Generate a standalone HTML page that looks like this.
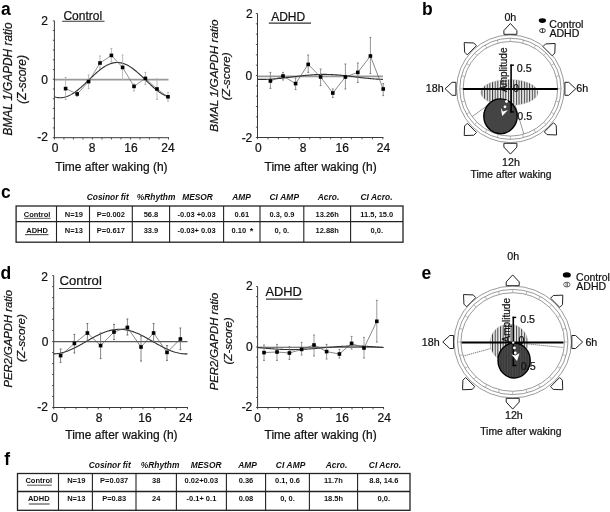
<!DOCTYPE html>
<html><head><meta charset="utf-8"><style>
html,body{margin:0;padding:0;background:#fff;}
svg{display:block;font-family:"Liberation Sans", sans-serif;will-change:transform;}
text:not([font-weight]){stroke:#111;stroke-width:0.22px;}
</style></head><body>
<svg width="610" height="512" viewBox="0 0 610 512">
<rect width="610" height="512" fill="#fff"/>
<line x1="54.40" y1="79.70" x2="168.50" y2="79.70" stroke="#999" stroke-width="1.7"/>
<line x1="54.40" y1="20.80" x2="54.40" y2="138.20" stroke="#3a3a3a" stroke-width="1"/>
<line x1="52.80" y1="20.80" x2="54.40" y2="20.80" stroke="#444" stroke-width="0.9"/>
<line x1="52.80" y1="30.54" x2="54.40" y2="30.54" stroke="#444" stroke-width="0.9"/>
<line x1="52.80" y1="40.28" x2="54.40" y2="40.28" stroke="#444" stroke-width="0.9"/>
<line x1="52.80" y1="50.02" x2="54.40" y2="50.02" stroke="#444" stroke-width="0.9"/>
<line x1="52.80" y1="59.77" x2="54.40" y2="59.77" stroke="#444" stroke-width="0.9"/>
<line x1="52.80" y1="69.51" x2="54.40" y2="69.51" stroke="#444" stroke-width="0.9"/>
<line x1="52.80" y1="79.25" x2="54.40" y2="79.25" stroke="#444" stroke-width="0.9"/>
<line x1="52.80" y1="88.99" x2="54.40" y2="88.99" stroke="#444" stroke-width="0.9"/>
<line x1="52.80" y1="98.73" x2="54.40" y2="98.73" stroke="#444" stroke-width="0.9"/>
<line x1="52.80" y1="108.47" x2="54.40" y2="108.47" stroke="#444" stroke-width="0.9"/>
<line x1="52.80" y1="118.22" x2="54.40" y2="118.22" stroke="#444" stroke-width="0.9"/>
<line x1="52.80" y1="127.96" x2="54.40" y2="127.96" stroke="#444" stroke-width="0.9"/>
<line x1="52.80" y1="137.70" x2="54.40" y2="137.70" stroke="#444" stroke-width="0.9"/>
<line x1="53.90" y1="137.70" x2="169.00" y2="137.70" stroke="#3a3a3a" stroke-width="1"/>
<line x1="54.40" y1="137.70" x2="54.40" y2="139.50" stroke="#444" stroke-width="0.9"/>
<line x1="63.91" y1="137.70" x2="63.91" y2="139.50" stroke="#444" stroke-width="0.9"/>
<line x1="73.42" y1="137.70" x2="73.42" y2="139.50" stroke="#444" stroke-width="0.9"/>
<line x1="82.92" y1="137.70" x2="82.92" y2="139.50" stroke="#444" stroke-width="0.9"/>
<line x1="92.43" y1="137.70" x2="92.43" y2="139.50" stroke="#444" stroke-width="0.9"/>
<line x1="101.94" y1="137.70" x2="101.94" y2="139.50" stroke="#444" stroke-width="0.9"/>
<line x1="111.45" y1="137.70" x2="111.45" y2="139.50" stroke="#444" stroke-width="0.9"/>
<line x1="120.96" y1="137.70" x2="120.96" y2="139.50" stroke="#444" stroke-width="0.9"/>
<line x1="130.47" y1="137.70" x2="130.47" y2="139.50" stroke="#444" stroke-width="0.9"/>
<line x1="139.97" y1="137.70" x2="139.97" y2="139.50" stroke="#444" stroke-width="0.9"/>
<line x1="149.48" y1="137.70" x2="149.48" y2="139.50" stroke="#444" stroke-width="0.9"/>
<line x1="158.99" y1="137.70" x2="158.99" y2="139.50" stroke="#444" stroke-width="0.9"/>
<line x1="168.50" y1="137.70" x2="168.50" y2="139.50" stroke="#444" stroke-width="0.9"/>
<polyline points="54.40,96.83 55.35,97.09 56.30,97.31 57.25,97.48 58.20,97.60 59.15,97.67 60.10,97.70 61.06,97.68 62.01,97.61 62.96,97.49 63.91,97.32 64.86,97.11 65.81,96.85 66.76,96.55 67.71,96.20 68.66,95.80 69.61,95.36 70.56,94.88 71.52,94.36 72.47,93.81 73.42,93.21 74.37,92.58 75.32,91.91 76.27,91.21 77.22,90.48 78.17,89.72 79.12,88.94 80.07,88.13 81.02,87.30 81.97,86.45 82.92,85.58 83.88,84.70 84.83,83.80 85.78,82.90 86.73,81.98 87.68,81.06 88.63,80.14 89.58,79.22 90.53,78.30 91.48,77.39 92.43,76.48 93.38,75.59 94.33,74.70 95.29,73.83 96.24,72.98 97.19,72.15 98.14,71.34 99.09,70.55 100.04,69.79 100.99,69.06 101.94,68.36 102.89,67.69 103.84,67.05 104.79,66.45 105.75,65.89 106.70,65.36 107.65,64.88 108.60,64.44 109.55,64.04 110.50,63.68 111.45,63.37 112.40,63.11 113.35,62.89 114.30,62.72 115.25,62.60 116.20,62.53 117.16,62.50 118.11,62.52 119.06,62.59 120.01,62.71 120.96,62.88 121.91,63.09 122.86,63.35 123.81,63.65 124.76,64.00 125.71,64.40 126.66,64.84 127.61,65.32 128.56,65.84 129.52,66.39 130.47,66.99 131.42,67.62 132.37,68.29 133.32,68.99 134.27,69.72 135.22,70.48 136.17,71.26 137.12,72.07 138.07,72.90 139.02,73.75 139.97,74.62 140.93,75.50 141.88,76.40 142.83,77.30 143.78,78.22 144.73,79.14 145.68,80.06 146.63,80.98 147.58,81.90 148.53,82.81 149.48,83.72 150.43,84.61 151.38,85.50 152.34,86.37 153.29,87.22 154.24,88.05 155.19,88.86 156.14,89.65 157.09,90.41 158.04,91.14 158.99,91.84 159.94,92.51 160.89,93.15 161.84,93.75 162.79,94.31 163.75,94.84 164.70,95.32 165.65,95.76 166.60,96.16 167.55,96.52 168.50,96.83" stroke="#303030" stroke-width="1.1" fill="none"/>
<line x1="65.60" y1="77.40" x2="65.60" y2="99.40" stroke="#aaa" stroke-width="0.8"/>
<line x1="64.70" y1="77.40" x2="66.50" y2="77.40" stroke="#aaa" stroke-width="1"/>
<line x1="64.70" y1="99.40" x2="66.50" y2="99.40" stroke="#aaa" stroke-width="1"/>
<line x1="77.20" y1="92.00" x2="77.20" y2="96.50" stroke="#aaa" stroke-width="0.8"/>
<line x1="76.30" y1="92.00" x2="78.10" y2="92.00" stroke="#aaa" stroke-width="1"/>
<line x1="76.30" y1="96.50" x2="78.10" y2="96.50" stroke="#aaa" stroke-width="1"/>
<line x1="88.60" y1="75.00" x2="88.60" y2="88.60" stroke="#aaa" stroke-width="0.8"/>
<line x1="87.70" y1="75.00" x2="89.50" y2="75.00" stroke="#aaa" stroke-width="1"/>
<line x1="87.70" y1="88.60" x2="89.50" y2="88.60" stroke="#aaa" stroke-width="1"/>
<line x1="100.00" y1="56.00" x2="100.00" y2="68.00" stroke="#aaa" stroke-width="0.8"/>
<line x1="99.10" y1="56.00" x2="100.90" y2="56.00" stroke="#aaa" stroke-width="1"/>
<line x1="99.10" y1="68.00" x2="100.90" y2="68.00" stroke="#aaa" stroke-width="1"/>
<line x1="111.40" y1="48.40" x2="111.40" y2="62.00" stroke="#aaa" stroke-width="0.8"/>
<line x1="110.50" y1="48.40" x2="112.30" y2="48.40" stroke="#aaa" stroke-width="1"/>
<line x1="110.50" y1="62.00" x2="112.30" y2="62.00" stroke="#aaa" stroke-width="1"/>
<line x1="122.60" y1="55.00" x2="122.60" y2="79.60" stroke="#aaa" stroke-width="0.8"/>
<line x1="121.70" y1="55.00" x2="123.50" y2="55.00" stroke="#aaa" stroke-width="1"/>
<line x1="121.70" y1="79.60" x2="123.50" y2="79.60" stroke="#aaa" stroke-width="1"/>
<line x1="134.00" y1="84.00" x2="134.00" y2="91.00" stroke="#aaa" stroke-width="0.8"/>
<line x1="133.10" y1="84.00" x2="134.90" y2="84.00" stroke="#aaa" stroke-width="1"/>
<line x1="133.10" y1="91.00" x2="134.90" y2="91.00" stroke="#aaa" stroke-width="1"/>
<line x1="145.40" y1="72.40" x2="145.40" y2="84.40" stroke="#aaa" stroke-width="0.8"/>
<line x1="144.50" y1="72.40" x2="146.30" y2="72.40" stroke="#aaa" stroke-width="1"/>
<line x1="144.50" y1="84.40" x2="146.30" y2="84.40" stroke="#aaa" stroke-width="1"/>
<line x1="157.00" y1="79.00" x2="157.00" y2="99.40" stroke="#aaa" stroke-width="0.8"/>
<line x1="156.10" y1="79.00" x2="157.90" y2="79.00" stroke="#aaa" stroke-width="1"/>
<line x1="156.10" y1="99.40" x2="157.90" y2="99.40" stroke="#aaa" stroke-width="1"/>
<line x1="168.00" y1="92.40" x2="168.00" y2="101.00" stroke="#aaa" stroke-width="0.8"/>
<line x1="167.10" y1="92.40" x2="168.90" y2="92.40" stroke="#aaa" stroke-width="1"/>
<line x1="167.10" y1="101.00" x2="168.90" y2="101.00" stroke="#aaa" stroke-width="1"/>
<polyline points="65.60,88.60 77.20,94.00 88.60,81.60 100.00,63.00 111.40,55.40 122.60,67.40 134.00,86.40 145.40,78.40 157.00,89.00 168.00,96.80" stroke="#666" stroke-width="0.7" fill="none"/>
<rect x="63.80" y="86.80" width="3.6" height="3.6" fill="#000"/>
<rect x="75.40" y="92.20" width="3.6" height="3.6" fill="#000"/>
<rect x="86.80" y="79.80" width="3.6" height="3.6" fill="#000"/>
<rect x="98.20" y="61.20" width="3.6" height="3.6" fill="#000"/>
<rect x="109.60" y="53.60" width="3.6" height="3.6" fill="#000"/>
<rect x="120.80" y="65.60" width="3.6" height="3.6" fill="#000"/>
<rect x="132.20" y="84.60" width="3.6" height="3.6" fill="#000"/>
<rect x="143.60" y="76.60" width="3.6" height="3.6" fill="#000"/>
<rect x="155.20" y="87.20" width="3.6" height="3.6" fill="#000"/>
<rect x="166.20" y="95.00" width="3.6" height="3.6" fill="#000"/>
<text x="63.4" y="19.6" font-size="12" text-anchor="start" fill="#111">Control</text>
<line x1="62.20" y1="21.20" x2="104.50" y2="21.20" stroke="#333" stroke-width="1.1"/>
<text x="48" y="24.5" font-size="12" text-anchor="end" fill="#111">2</text>
<text x="48" y="83.6" font-size="12" text-anchor="end" fill="#111">0</text>
<text x="48" y="140.9" font-size="12" text-anchor="end" fill="#111">-2</text>
<text x="55" y="152.2" font-size="12" text-anchor="middle" fill="#111">0</text>
<text x="92" y="152.2" font-size="12" text-anchor="middle" fill="#111">8</text>
<text x="130.9" y="152.2" font-size="12" text-anchor="middle" fill="#111">16</text>
<text x="168" y="152.2" font-size="12" text-anchor="middle" fill="#111">24</text>
<text x="55.3" y="170.5" font-size="12" text-anchor="start" fill="#111">Time after waking (h)</text>
<text x="12.4" y="79" font-size="11.85" font-style="italic" text-anchor="middle" fill="#111" transform="rotate(-90 12.4 79)">BMAL&#8201;1/GAPDH ratio</text>
<text x="26" y="79.3" font-size="12" font-style="italic" text-anchor="middle" fill="#111" transform="rotate(-90 26 79.3)">(Z-score)</text>
<line x1="257.50" y1="76.40" x2="382.90" y2="76.40" stroke="#999" stroke-width="1.7"/>
<line x1="257.50" y1="13.50" x2="257.50" y2="138.00" stroke="#3a3a3a" stroke-width="1"/>
<line x1="255.90" y1="13.50" x2="257.50" y2="13.50" stroke="#444" stroke-width="0.9"/>
<line x1="255.90" y1="23.83" x2="257.50" y2="23.83" stroke="#444" stroke-width="0.9"/>
<line x1="255.90" y1="34.17" x2="257.50" y2="34.17" stroke="#444" stroke-width="0.9"/>
<line x1="255.90" y1="44.50" x2="257.50" y2="44.50" stroke="#444" stroke-width="0.9"/>
<line x1="255.90" y1="54.83" x2="257.50" y2="54.83" stroke="#444" stroke-width="0.9"/>
<line x1="255.90" y1="65.17" x2="257.50" y2="65.17" stroke="#444" stroke-width="0.9"/>
<line x1="255.90" y1="75.50" x2="257.50" y2="75.50" stroke="#444" stroke-width="0.9"/>
<line x1="255.90" y1="85.83" x2="257.50" y2="85.83" stroke="#444" stroke-width="0.9"/>
<line x1="255.90" y1="96.17" x2="257.50" y2="96.17" stroke="#444" stroke-width="0.9"/>
<line x1="255.90" y1="106.50" x2="257.50" y2="106.50" stroke="#444" stroke-width="0.9"/>
<line x1="255.90" y1="116.83" x2="257.50" y2="116.83" stroke="#444" stroke-width="0.9"/>
<line x1="255.90" y1="127.17" x2="257.50" y2="127.17" stroke="#444" stroke-width="0.9"/>
<line x1="255.90" y1="137.50" x2="257.50" y2="137.50" stroke="#444" stroke-width="0.9"/>
<line x1="257.00" y1="137.50" x2="383.40" y2="137.50" stroke="#3a3a3a" stroke-width="1"/>
<line x1="257.50" y1="137.50" x2="257.50" y2="139.30" stroke="#444" stroke-width="0.9"/>
<line x1="267.95" y1="137.50" x2="267.95" y2="139.30" stroke="#444" stroke-width="0.9"/>
<line x1="278.40" y1="137.50" x2="278.40" y2="139.30" stroke="#444" stroke-width="0.9"/>
<line x1="288.85" y1="137.50" x2="288.85" y2="139.30" stroke="#444" stroke-width="0.9"/>
<line x1="299.30" y1="137.50" x2="299.30" y2="139.30" stroke="#444" stroke-width="0.9"/>
<line x1="309.75" y1="137.50" x2="309.75" y2="139.30" stroke="#444" stroke-width="0.9"/>
<line x1="320.20" y1="137.50" x2="320.20" y2="139.30" stroke="#444" stroke-width="0.9"/>
<line x1="330.65" y1="137.50" x2="330.65" y2="139.30" stroke="#444" stroke-width="0.9"/>
<line x1="341.10" y1="137.50" x2="341.10" y2="139.30" stroke="#444" stroke-width="0.9"/>
<line x1="351.55" y1="137.50" x2="351.55" y2="139.30" stroke="#444" stroke-width="0.9"/>
<line x1="362.00" y1="137.50" x2="362.00" y2="139.30" stroke="#444" stroke-width="0.9"/>
<line x1="372.45" y1="137.50" x2="372.45" y2="139.30" stroke="#444" stroke-width="0.9"/>
<line x1="382.90" y1="137.50" x2="382.90" y2="139.30" stroke="#444" stroke-width="0.9"/>
<polyline points="257.50,79.35 258.55,79.38 259.59,79.39 260.63,79.40 261.68,79.40 262.73,79.39 263.77,79.38 264.81,79.36 265.86,79.34 266.90,79.30 267.95,79.26 269.00,79.22 270.04,79.16 271.08,79.11 272.13,79.04 273.18,78.97 274.22,78.89 275.26,78.81 276.31,78.73 277.36,78.63 278.40,78.54 279.44,78.44 280.49,78.33 281.53,78.22 282.58,78.11 283.62,77.99 284.67,77.87 285.71,77.75 286.76,77.63 287.81,77.50 288.85,77.37 289.89,77.24 290.94,77.11 291.99,76.98 293.03,76.85 294.07,76.72 295.12,76.59 296.16,76.46 297.21,76.33 298.25,76.21 299.30,76.08 300.34,75.96 301.39,75.84 302.44,75.72 303.48,75.61 304.52,75.50 305.57,75.39 306.62,75.29 307.66,75.19 308.70,75.10 309.75,75.01 310.79,74.93 311.84,74.85 312.88,74.78 313.93,74.71 314.98,74.65 316.02,74.60 317.06,74.55 318.11,74.51 319.15,74.47 320.20,74.45 321.25,74.42 322.29,74.41 323.33,74.40 324.38,74.40 325.42,74.41 326.47,74.42 327.51,74.44 328.56,74.46 329.61,74.50 330.65,74.54 331.69,74.58 332.74,74.64 333.78,74.69 334.83,74.76 335.88,74.83 336.92,74.91 337.96,74.99 339.01,75.07 340.06,75.17 341.10,75.26 342.14,75.36 343.19,75.47 344.24,75.58 345.28,75.69 346.32,75.81 347.37,75.93 348.41,76.05 349.46,76.17 350.50,76.30 351.55,76.43 352.59,76.56 353.64,76.69 354.68,76.82 355.73,76.95 356.77,77.08 357.82,77.21 358.87,77.34 359.91,77.47 360.95,77.59 362.00,77.72 363.04,77.84 364.09,77.96 365.13,78.08 366.18,78.19 367.22,78.30 368.27,78.41 369.31,78.51 370.36,78.61 371.40,78.70 372.45,78.79 373.50,78.87 374.54,78.95 375.58,79.02 376.63,79.09 377.67,79.15 378.72,79.20 379.76,79.25 380.81,79.29 381.85,79.33 382.90,79.35" stroke="#303030" stroke-width="1.1" fill="none"/>
<line x1="270.40" y1="72.40" x2="270.40" y2="88.40" stroke="#7a7a7a" stroke-width="0.8"/>
<line x1="269.50" y1="72.40" x2="271.30" y2="72.40" stroke="#7a7a7a" stroke-width="1"/>
<line x1="269.50" y1="88.40" x2="271.30" y2="88.40" stroke="#7a7a7a" stroke-width="1"/>
<line x1="283.00" y1="72.40" x2="283.00" y2="80.00" stroke="#7a7a7a" stroke-width="0.8"/>
<line x1="282.10" y1="72.40" x2="283.90" y2="72.40" stroke="#7a7a7a" stroke-width="1"/>
<line x1="282.10" y1="80.00" x2="283.90" y2="80.00" stroke="#7a7a7a" stroke-width="1"/>
<line x1="295.60" y1="78.00" x2="295.60" y2="89.60" stroke="#7a7a7a" stroke-width="0.8"/>
<line x1="294.70" y1="78.00" x2="296.50" y2="78.00" stroke="#7a7a7a" stroke-width="1"/>
<line x1="294.70" y1="89.60" x2="296.50" y2="89.60" stroke="#7a7a7a" stroke-width="1"/>
<line x1="308.20" y1="55.00" x2="308.20" y2="72.40" stroke="#7a7a7a" stroke-width="0.8"/>
<line x1="307.30" y1="55.00" x2="309.10" y2="55.00" stroke="#7a7a7a" stroke-width="1"/>
<line x1="307.30" y1="72.40" x2="309.10" y2="72.40" stroke="#7a7a7a" stroke-width="1"/>
<line x1="320.60" y1="69.00" x2="320.60" y2="85.60" stroke="#7a7a7a" stroke-width="0.8"/>
<line x1="319.70" y1="69.00" x2="321.50" y2="69.00" stroke="#7a7a7a" stroke-width="1"/>
<line x1="319.70" y1="85.60" x2="321.50" y2="85.60" stroke="#7a7a7a" stroke-width="1"/>
<line x1="332.80" y1="89.00" x2="332.80" y2="97.40" stroke="#7a7a7a" stroke-width="0.8"/>
<line x1="331.90" y1="89.00" x2="333.70" y2="89.00" stroke="#7a7a7a" stroke-width="1"/>
<line x1="331.90" y1="97.40" x2="333.70" y2="97.40" stroke="#7a7a7a" stroke-width="1"/>
<line x1="345.40" y1="64.00" x2="345.40" y2="89.00" stroke="#7a7a7a" stroke-width="0.8"/>
<line x1="344.50" y1="64.00" x2="346.30" y2="64.00" stroke="#7a7a7a" stroke-width="1"/>
<line x1="344.50" y1="89.00" x2="346.30" y2="89.00" stroke="#7a7a7a" stroke-width="1"/>
<line x1="357.80" y1="63.00" x2="357.80" y2="82.40" stroke="#7a7a7a" stroke-width="0.8"/>
<line x1="356.90" y1="63.00" x2="358.70" y2="63.00" stroke="#7a7a7a" stroke-width="1"/>
<line x1="356.90" y1="82.40" x2="358.70" y2="82.40" stroke="#7a7a7a" stroke-width="1"/>
<line x1="370.40" y1="37.40" x2="370.40" y2="73.60" stroke="#7a7a7a" stroke-width="0.8"/>
<line x1="369.50" y1="37.40" x2="371.30" y2="37.40" stroke="#7a7a7a" stroke-width="1"/>
<line x1="369.50" y1="73.60" x2="371.30" y2="73.60" stroke="#7a7a7a" stroke-width="1"/>
<line x1="383.20" y1="83.60" x2="383.20" y2="95.60" stroke="#7a7a7a" stroke-width="0.8"/>
<line x1="382.30" y1="83.60" x2="384.10" y2="83.60" stroke="#7a7a7a" stroke-width="1"/>
<line x1="382.30" y1="95.60" x2="384.10" y2="95.60" stroke="#7a7a7a" stroke-width="1"/>
<polyline points="270.40,81.00 283.00,76.00 295.60,83.60 308.20,64.40 320.60,77.00 332.80,93.00 345.40,77.00 357.80,72.40 370.40,56.00 383.20,89.00" stroke="#555" stroke-width="0.7" fill="none"/>
<rect x="268.60" y="79.20" width="3.6" height="3.6" fill="#000"/>
<rect x="281.20" y="74.20" width="3.6" height="3.6" fill="#000"/>
<rect x="293.80" y="81.80" width="3.6" height="3.6" fill="#000"/>
<rect x="306.40" y="62.60" width="3.6" height="3.6" fill="#000"/>
<rect x="318.80" y="75.20" width="3.6" height="3.6" fill="#000"/>
<rect x="331.00" y="91.20" width="3.6" height="3.6" fill="#000"/>
<rect x="343.60" y="75.20" width="3.6" height="3.6" fill="#000"/>
<rect x="356.00" y="70.60" width="3.6" height="3.6" fill="#000"/>
<rect x="368.60" y="54.20" width="3.6" height="3.6" fill="#000"/>
<rect x="381.40" y="87.20" width="3.6" height="3.6" fill="#000"/>
<text x="271.2" y="20.8" font-size="12" text-anchor="start" fill="#111">ADHD</text>
<line x1="268.80" y1="23.10" x2="311.00" y2="23.10" stroke="#333" stroke-width="1.1"/>
<text x="252.6" y="17.5" font-size="12" text-anchor="end" fill="#111">2</text>
<text x="252.3" y="79.6" font-size="12" text-anchor="end" fill="#111">0</text>
<text x="252.3" y="141.6" font-size="12" text-anchor="end" fill="#111">-2</text>
<text x="258.3" y="152.2" font-size="12" text-anchor="middle" fill="#111">0</text>
<text x="303.2" y="152.2" font-size="12" text-anchor="middle" fill="#111">8</text>
<text x="342.3" y="152.2" font-size="12" text-anchor="middle" fill="#111">16</text>
<text x="383.5" y="152.2" font-size="12" text-anchor="middle" fill="#111">24</text>
<text x="264.5" y="170.5" font-size="12" text-anchor="start" fill="#111">Time after waking (h)</text>
<text x="217.8" y="75.6" font-size="11.75" font-style="italic" text-anchor="middle" fill="#111" transform="rotate(-90 217.8 75.6)">BMAL&#8201;1/GAPDH ratio</text>
<text x="230" y="76.3" font-size="11.8" font-style="italic" text-anchor="middle" fill="#111" transform="rotate(-90 230 76.3)">(Z-score)</text>
<line x1="53.70" y1="341.60" x2="187.50" y2="341.60" stroke="#5a5a5a" stroke-width="1.4"/>
<line x1="53.70" y1="275.60" x2="53.70" y2="408.00" stroke="#3a3a3a" stroke-width="1"/>
<line x1="52.10" y1="275.60" x2="53.70" y2="275.60" stroke="#444" stroke-width="0.9"/>
<line x1="52.10" y1="286.59" x2="53.70" y2="286.59" stroke="#444" stroke-width="0.9"/>
<line x1="52.10" y1="297.58" x2="53.70" y2="297.58" stroke="#444" stroke-width="0.9"/>
<line x1="52.10" y1="308.58" x2="53.70" y2="308.58" stroke="#444" stroke-width="0.9"/>
<line x1="52.10" y1="319.57" x2="53.70" y2="319.57" stroke="#444" stroke-width="0.9"/>
<line x1="52.10" y1="330.56" x2="53.70" y2="330.56" stroke="#444" stroke-width="0.9"/>
<line x1="52.10" y1="341.55" x2="53.70" y2="341.55" stroke="#444" stroke-width="0.9"/>
<line x1="52.10" y1="352.54" x2="53.70" y2="352.54" stroke="#444" stroke-width="0.9"/>
<line x1="52.10" y1="363.53" x2="53.70" y2="363.53" stroke="#444" stroke-width="0.9"/>
<line x1="52.10" y1="374.53" x2="53.70" y2="374.53" stroke="#444" stroke-width="0.9"/>
<line x1="52.10" y1="385.52" x2="53.70" y2="385.52" stroke="#444" stroke-width="0.9"/>
<line x1="52.10" y1="396.51" x2="53.70" y2="396.51" stroke="#444" stroke-width="0.9"/>
<line x1="52.10" y1="407.50" x2="53.70" y2="407.50" stroke="#444" stroke-width="0.9"/>
<line x1="53.20" y1="407.50" x2="188.00" y2="407.50" stroke="#3a3a3a" stroke-width="1"/>
<line x1="53.70" y1="407.50" x2="53.70" y2="409.30" stroke="#444" stroke-width="0.9"/>
<line x1="64.85" y1="407.50" x2="64.85" y2="409.30" stroke="#444" stroke-width="0.9"/>
<line x1="76.00" y1="407.50" x2="76.00" y2="409.30" stroke="#444" stroke-width="0.9"/>
<line x1="87.15" y1="407.50" x2="87.15" y2="409.30" stroke="#444" stroke-width="0.9"/>
<line x1="98.30" y1="407.50" x2="98.30" y2="409.30" stroke="#444" stroke-width="0.9"/>
<line x1="109.45" y1="407.50" x2="109.45" y2="409.30" stroke="#444" stroke-width="0.9"/>
<line x1="120.60" y1="407.50" x2="120.60" y2="409.30" stroke="#444" stroke-width="0.9"/>
<line x1="131.75" y1="407.50" x2="131.75" y2="409.30" stroke="#444" stroke-width="0.9"/>
<line x1="142.90" y1="407.50" x2="142.90" y2="409.30" stroke="#444" stroke-width="0.9"/>
<line x1="154.05" y1="407.50" x2="154.05" y2="409.30" stroke="#444" stroke-width="0.9"/>
<line x1="165.20" y1="407.50" x2="165.20" y2="409.30" stroke="#444" stroke-width="0.9"/>
<line x1="176.35" y1="407.50" x2="176.35" y2="409.30" stroke="#444" stroke-width="0.9"/>
<line x1="187.50" y1="407.50" x2="187.50" y2="409.30" stroke="#444" stroke-width="0.9"/>
<polyline points="53.70,353.88 54.82,353.83 55.93,353.75 57.05,353.63 58.16,353.48 59.28,353.30 60.39,353.09 61.51,352.84 62.62,352.56 63.73,352.26 64.85,351.92 65.97,351.56 67.08,351.16 68.20,350.75 69.31,350.30 70.43,349.84 71.54,349.35 72.66,348.84 73.77,348.31 74.89,347.76 76.00,347.19 77.12,346.61 78.23,346.02 79.34,345.41 80.46,344.79 81.58,344.17 82.69,343.53 83.81,342.89 84.92,342.25 86.03,341.61 87.15,340.96 88.27,340.32 89.38,339.68 90.50,339.05 91.61,338.42 92.72,337.81 93.84,337.20 94.96,336.61 96.07,336.02 97.19,335.46 98.30,334.91 99.42,334.38 100.53,333.87 101.65,333.38 102.76,332.91 103.88,332.47 104.99,332.05 106.11,331.65 107.22,331.29 108.34,330.95 109.45,330.64 110.56,330.37 111.68,330.12 112.80,329.90 113.91,329.72 115.03,329.57 116.14,329.45 117.25,329.37 118.37,329.32 119.49,329.30 120.60,329.32 121.72,329.37 122.83,329.45 123.95,329.57 125.06,329.72 126.17,329.90 127.29,330.11 128.41,330.36 129.52,330.64 130.63,330.94 131.75,331.28 132.87,331.64 133.98,332.04 135.10,332.45 136.21,332.90 137.32,333.36 138.44,333.85 139.56,334.36 140.67,334.89 141.79,335.44 142.90,336.01 144.02,336.59 145.13,337.18 146.25,337.79 147.36,338.41 148.48,339.03 149.59,339.67 150.71,340.31 151.82,340.95 152.94,341.59 154.05,342.24 155.17,342.88 156.28,343.52 157.40,344.15 158.51,344.78 159.62,345.39 160.74,346.00 161.86,346.59 162.97,347.18 164.09,347.74 165.20,348.29 166.31,348.82 167.43,349.33 168.55,349.82 169.66,350.29 170.78,350.73 171.89,351.15 173.00,351.55 174.12,351.91 175.24,352.25 176.35,352.56 177.47,352.83 178.58,353.08 179.70,353.30 180.81,353.48 181.93,353.63 183.04,353.75 184.16,353.83 185.27,353.88 186.38,353.90 187.50,353.88" stroke="#303030" stroke-width="1.1" fill="none"/>
<line x1="60.60" y1="349.00" x2="60.60" y2="362.40" stroke="#666" stroke-width="0.8"/>
<line x1="59.70" y1="349.00" x2="61.50" y2="349.00" stroke="#666" stroke-width="1"/>
<line x1="59.70" y1="362.40" x2="61.50" y2="362.40" stroke="#666" stroke-width="1"/>
<line x1="74.40" y1="334.40" x2="74.40" y2="353.00" stroke="#666" stroke-width="0.8"/>
<line x1="73.50" y1="334.40" x2="75.30" y2="334.40" stroke="#666" stroke-width="1"/>
<line x1="73.50" y1="353.00" x2="75.30" y2="353.00" stroke="#666" stroke-width="1"/>
<line x1="87.40" y1="323.60" x2="87.40" y2="341.00" stroke="#666" stroke-width="0.8"/>
<line x1="86.50" y1="323.60" x2="88.30" y2="323.60" stroke="#666" stroke-width="1"/>
<line x1="86.50" y1="341.00" x2="88.30" y2="341.00" stroke="#666" stroke-width="1"/>
<line x1="100.60" y1="333.00" x2="100.60" y2="358.60" stroke="#666" stroke-width="0.8"/>
<line x1="99.70" y1="333.00" x2="101.50" y2="333.00" stroke="#666" stroke-width="1"/>
<line x1="99.70" y1="358.60" x2="101.50" y2="358.60" stroke="#666" stroke-width="1"/>
<line x1="114.00" y1="324.40" x2="114.00" y2="339.60" stroke="#666" stroke-width="0.8"/>
<line x1="113.10" y1="324.40" x2="114.90" y2="324.40" stroke="#666" stroke-width="1"/>
<line x1="113.10" y1="339.60" x2="114.90" y2="339.60" stroke="#666" stroke-width="1"/>
<line x1="127.40" y1="319.00" x2="127.40" y2="335.00" stroke="#666" stroke-width="0.8"/>
<line x1="126.50" y1="319.00" x2="128.30" y2="319.00" stroke="#666" stroke-width="1"/>
<line x1="126.50" y1="335.00" x2="128.30" y2="335.00" stroke="#666" stroke-width="1"/>
<line x1="141.00" y1="336.00" x2="141.00" y2="361.00" stroke="#666" stroke-width="0.8"/>
<line x1="140.10" y1="336.00" x2="141.90" y2="336.00" stroke="#666" stroke-width="1"/>
<line x1="140.10" y1="361.00" x2="141.90" y2="361.00" stroke="#666" stroke-width="1"/>
<line x1="153.60" y1="323.60" x2="153.60" y2="342.00" stroke="#666" stroke-width="0.8"/>
<line x1="152.70" y1="323.60" x2="154.50" y2="323.60" stroke="#666" stroke-width="1"/>
<line x1="152.70" y1="342.00" x2="154.50" y2="342.00" stroke="#666" stroke-width="1"/>
<line x1="167.00" y1="345.60" x2="167.00" y2="360.40" stroke="#666" stroke-width="0.8"/>
<line x1="166.10" y1="345.60" x2="167.90" y2="345.60" stroke="#666" stroke-width="1"/>
<line x1="166.10" y1="360.40" x2="167.90" y2="360.40" stroke="#666" stroke-width="1"/>
<line x1="180.40" y1="328.00" x2="180.40" y2="349.60" stroke="#666" stroke-width="0.8"/>
<line x1="179.50" y1="328.00" x2="181.30" y2="328.00" stroke="#666" stroke-width="1"/>
<line x1="179.50" y1="349.60" x2="181.30" y2="349.60" stroke="#666" stroke-width="1"/>
<polyline points="60.60,355.60 74.40,343.40 87.40,333.00 100.60,345.60 114.00,332.00 127.40,327.40 141.00,347.00 153.60,333.00 167.00,352.40 180.40,339.00" stroke="#555" stroke-width="0.7" fill="none"/>
<rect x="58.80" y="353.80" width="3.6" height="3.6" fill="#000"/>
<rect x="72.60" y="341.60" width="3.6" height="3.6" fill="#000"/>
<rect x="85.60" y="331.20" width="3.6" height="3.6" fill="#000"/>
<rect x="98.80" y="343.80" width="3.6" height="3.6" fill="#000"/>
<rect x="112.20" y="330.20" width="3.6" height="3.6" fill="#000"/>
<rect x="125.60" y="325.60" width="3.6" height="3.6" fill="#000"/>
<rect x="139.20" y="345.20" width="3.6" height="3.6" fill="#000"/>
<rect x="151.80" y="331.20" width="3.6" height="3.6" fill="#000"/>
<rect x="165.20" y="350.60" width="3.6" height="3.6" fill="#000"/>
<rect x="178.60" y="337.20" width="3.6" height="3.6" fill="#000"/>
<text x="59.6" y="285.2" font-size="13.1" text-anchor="start" fill="#111">Control</text>
<line x1="59.00" y1="288.50" x2="101.50" y2="288.50" stroke="#333" stroke-width="1.1"/>
<text x="48" y="280.8" font-size="12" text-anchor="end" fill="#111">2</text>
<text x="48.4" y="346" font-size="12" text-anchor="end" fill="#111">0</text>
<text x="48" y="411.2" font-size="12" text-anchor="end" fill="#111">-2</text>
<text x="54.5" y="422.2" font-size="12" text-anchor="middle" fill="#111">0</text>
<text x="99" y="422.2" font-size="12" text-anchor="middle" fill="#111">8</text>
<text x="145" y="422.2" font-size="12" text-anchor="middle" fill="#111">16</text>
<text x="185.7" y="422.2" font-size="12" text-anchor="middle" fill="#111">24</text>
<text x="65.3" y="438.5" font-size="12" text-anchor="start" fill="#111">Time after waking (h)</text>
<text x="12.2" y="338.75" font-size="11.25" font-style="italic" text-anchor="middle" fill="#111" transform="rotate(-90 12.2 338.75)">PER2/GAPDH ratio</text>
<text x="24.9" y="338" font-size="11.8" font-style="italic" text-anchor="middle" fill="#111" transform="rotate(-90 24.9 338)">(Z-score)</text>
<line x1="257.60" y1="347.20" x2="383.50" y2="347.20" stroke="#505050" stroke-width="1.1"/>
<line x1="257.60" y1="286.50" x2="257.60" y2="408.00" stroke="#3a3a3a" stroke-width="1"/>
<line x1="256.00" y1="286.50" x2="257.60" y2="286.50" stroke="#444" stroke-width="0.9"/>
<line x1="256.00" y1="296.58" x2="257.60" y2="296.58" stroke="#444" stroke-width="0.9"/>
<line x1="256.00" y1="306.67" x2="257.60" y2="306.67" stroke="#444" stroke-width="0.9"/>
<line x1="256.00" y1="316.75" x2="257.60" y2="316.75" stroke="#444" stroke-width="0.9"/>
<line x1="256.00" y1="326.83" x2="257.60" y2="326.83" stroke="#444" stroke-width="0.9"/>
<line x1="256.00" y1="336.92" x2="257.60" y2="336.92" stroke="#444" stroke-width="0.9"/>
<line x1="256.00" y1="347.00" x2="257.60" y2="347.00" stroke="#444" stroke-width="0.9"/>
<line x1="256.00" y1="357.08" x2="257.60" y2="357.08" stroke="#444" stroke-width="0.9"/>
<line x1="256.00" y1="367.17" x2="257.60" y2="367.17" stroke="#444" stroke-width="0.9"/>
<line x1="256.00" y1="377.25" x2="257.60" y2="377.25" stroke="#444" stroke-width="0.9"/>
<line x1="256.00" y1="387.33" x2="257.60" y2="387.33" stroke="#444" stroke-width="0.9"/>
<line x1="256.00" y1="397.42" x2="257.60" y2="397.42" stroke="#444" stroke-width="0.9"/>
<line x1="256.00" y1="407.50" x2="257.60" y2="407.50" stroke="#444" stroke-width="0.9"/>
<line x1="257.10" y1="407.50" x2="384.00" y2="407.50" stroke="#3a3a3a" stroke-width="1"/>
<line x1="257.60" y1="407.50" x2="257.60" y2="409.30" stroke="#444" stroke-width="0.9"/>
<line x1="268.09" y1="407.50" x2="268.09" y2="409.30" stroke="#444" stroke-width="0.9"/>
<line x1="278.58" y1="407.50" x2="278.58" y2="409.30" stroke="#444" stroke-width="0.9"/>
<line x1="289.08" y1="407.50" x2="289.08" y2="409.30" stroke="#444" stroke-width="0.9"/>
<line x1="299.57" y1="407.50" x2="299.57" y2="409.30" stroke="#444" stroke-width="0.9"/>
<line x1="310.06" y1="407.50" x2="310.06" y2="409.30" stroke="#444" stroke-width="0.9"/>
<line x1="320.55" y1="407.50" x2="320.55" y2="409.30" stroke="#444" stroke-width="0.9"/>
<line x1="331.04" y1="407.50" x2="331.04" y2="409.30" stroke="#444" stroke-width="0.9"/>
<line x1="341.53" y1="407.50" x2="341.53" y2="409.30" stroke="#444" stroke-width="0.9"/>
<line x1="352.03" y1="407.50" x2="352.03" y2="409.30" stroke="#444" stroke-width="0.9"/>
<line x1="362.52" y1="407.50" x2="362.52" y2="409.30" stroke="#444" stroke-width="0.9"/>
<line x1="373.01" y1="407.50" x2="373.01" y2="409.30" stroke="#444" stroke-width="0.9"/>
<line x1="383.50" y1="407.50" x2="383.50" y2="409.30" stroke="#444" stroke-width="0.9"/>
<polyline points="257.60,347.56 258.65,347.65 259.70,347.75 260.75,347.84 261.80,347.94 262.85,348.03 263.90,348.12 264.94,348.22 265.99,348.31 267.04,348.40 268.09,348.48 269.14,348.57 270.19,348.65 271.24,348.74 272.29,348.82 273.34,348.89 274.39,348.97 275.44,349.04 276.49,349.10 277.53,349.17 278.58,349.23 279.63,349.28 280.68,349.33 281.73,349.38 282.78,349.42 283.83,349.46 284.88,349.50 285.93,349.52 286.98,349.55 288.03,349.57 289.07,349.58 290.12,349.59 291.17,349.60 292.22,349.60 293.27,349.59 294.32,349.59 295.37,349.57 296.42,349.55 297.47,349.53 298.52,349.50 299.57,349.46 300.62,349.43 301.67,349.38 302.71,349.34 303.76,349.29 304.81,349.23 305.86,349.17 306.91,349.11 307.96,349.04 309.01,348.97 310.06,348.90 311.11,348.82 312.16,348.74 313.21,348.66 314.25,348.58 315.30,348.49 316.35,348.41 317.40,348.32 318.45,348.22 319.50,348.13 320.55,348.04 321.60,347.95 322.65,347.85 323.70,347.76 324.75,347.66 325.80,347.57 326.85,347.48 327.89,347.38 328.94,347.29 329.99,347.20 331.04,347.12 332.09,347.03 333.14,346.95 334.19,346.86 335.24,346.78 336.29,346.71 337.34,346.63 338.39,346.56 339.44,346.50 340.48,346.43 341.53,346.37 342.58,346.32 343.63,346.27 344.68,346.22 345.73,346.18 346.78,346.14 347.83,346.10 348.88,346.08 349.93,346.05 350.98,346.03 352.02,346.02 353.07,346.01 354.12,346.00 355.17,346.00 356.22,346.01 357.27,346.01 358.32,346.03 359.37,346.05 360.42,346.07 361.47,346.10 362.52,346.14 363.57,346.17 364.62,346.22 365.66,346.26 366.71,346.31 367.76,346.37 368.81,346.43 369.86,346.49 370.91,346.56 371.96,346.63 373.01,346.70 374.06,346.78 375.11,346.86 376.16,346.94 377.20,347.02 378.25,347.11 379.30,347.19 380.35,347.28 381.40,347.38 382.45,347.47 383.50,347.56" stroke="#303030" stroke-width="1.1" fill="none"/>
<line x1="264.00" y1="345.00" x2="264.00" y2="360.40" stroke="#808080" stroke-width="0.8"/>
<line x1="263.10" y1="345.00" x2="264.90" y2="345.00" stroke="#808080" stroke-width="1"/>
<line x1="263.10" y1="360.40" x2="264.90" y2="360.40" stroke="#808080" stroke-width="1"/>
<line x1="277.00" y1="344.40" x2="277.00" y2="360.40" stroke="#808080" stroke-width="0.8"/>
<line x1="276.10" y1="344.40" x2="277.90" y2="344.40" stroke="#808080" stroke-width="1"/>
<line x1="276.10" y1="360.40" x2="277.90" y2="360.40" stroke="#808080" stroke-width="1"/>
<line x1="289.40" y1="346.60" x2="289.40" y2="359.40" stroke="#808080" stroke-width="0.8"/>
<line x1="288.50" y1="346.60" x2="290.30" y2="346.60" stroke="#808080" stroke-width="1"/>
<line x1="288.50" y1="359.40" x2="290.30" y2="359.40" stroke="#808080" stroke-width="1"/>
<line x1="301.60" y1="342.40" x2="301.60" y2="355.00" stroke="#808080" stroke-width="0.8"/>
<line x1="300.70" y1="342.40" x2="302.50" y2="342.40" stroke="#808080" stroke-width="1"/>
<line x1="300.70" y1="355.00" x2="302.50" y2="355.00" stroke="#808080" stroke-width="1"/>
<line x1="314.00" y1="335.00" x2="314.00" y2="356.00" stroke="#808080" stroke-width="0.8"/>
<line x1="313.10" y1="335.00" x2="314.90" y2="335.00" stroke="#808080" stroke-width="1"/>
<line x1="313.10" y1="356.00" x2="314.90" y2="356.00" stroke="#808080" stroke-width="1"/>
<line x1="326.60" y1="344.40" x2="326.60" y2="359.00" stroke="#808080" stroke-width="0.8"/>
<line x1="325.70" y1="344.40" x2="327.50" y2="344.40" stroke="#808080" stroke-width="1"/>
<line x1="325.70" y1="359.00" x2="327.50" y2="359.00" stroke="#808080" stroke-width="1"/>
<line x1="339.40" y1="349.40" x2="339.40" y2="358.00" stroke="#808080" stroke-width="0.8"/>
<line x1="338.50" y1="349.40" x2="340.30" y2="349.40" stroke="#808080" stroke-width="1"/>
<line x1="338.50" y1="358.00" x2="340.30" y2="358.00" stroke="#808080" stroke-width="1"/>
<line x1="351.60" y1="336.40" x2="351.60" y2="349.00" stroke="#808080" stroke-width="0.8"/>
<line x1="350.70" y1="336.40" x2="352.50" y2="336.40" stroke="#808080" stroke-width="1"/>
<line x1="350.70" y1="349.00" x2="352.50" y2="349.00" stroke="#808080" stroke-width="1"/>
<line x1="364.00" y1="337.40" x2="364.00" y2="358.00" stroke="#808080" stroke-width="0.8"/>
<line x1="363.10" y1="337.40" x2="364.90" y2="337.40" stroke="#808080" stroke-width="1"/>
<line x1="363.10" y1="358.00" x2="364.90" y2="358.00" stroke="#808080" stroke-width="1"/>
<line x1="376.80" y1="300.30" x2="376.80" y2="342.00" stroke="#808080" stroke-width="0.8"/>
<line x1="375.90" y1="300.30" x2="377.70" y2="300.30" stroke="#808080" stroke-width="1"/>
<line x1="375.90" y1="342.00" x2="377.70" y2="342.00" stroke="#808080" stroke-width="1"/>
<polyline points="264.00,352.60 277.00,352.00 289.40,353.00 301.60,349.40 314.00,345.00 326.60,351.60 339.40,354.00 351.60,343.40 364.00,348.00 376.80,321.30" stroke="#555" stroke-width="0.7" fill="none"/>
<rect x="262.20" y="350.80" width="3.6" height="3.6" fill="#000"/>
<rect x="275.20" y="350.20" width="3.6" height="3.6" fill="#000"/>
<rect x="287.60" y="351.20" width="3.6" height="3.6" fill="#000"/>
<rect x="299.80" y="347.60" width="3.6" height="3.6" fill="#000"/>
<rect x="312.20" y="343.20" width="3.6" height="3.6" fill="#000"/>
<rect x="324.80" y="349.80" width="3.6" height="3.6" fill="#000"/>
<rect x="337.60" y="352.20" width="3.6" height="3.6" fill="#000"/>
<rect x="349.80" y="341.60" width="3.6" height="3.6" fill="#000"/>
<rect x="362.20" y="346.20" width="3.6" height="3.6" fill="#000"/>
<rect x="375.00" y="319.50" width="3.6" height="3.6" fill="#000"/>
<text x="265.5" y="296.1" font-size="12.8" text-anchor="start" fill="#111">ADHD</text>
<line x1="266.00" y1="299.10" x2="302.60" y2="299.10" stroke="#333" stroke-width="1.1"/>
<text x="252.6" y="289.8" font-size="12" text-anchor="end" fill="#111">2</text>
<text x="252.8" y="350.6" font-size="12" text-anchor="end" fill="#111">0</text>
<text x="252.3" y="410.7" font-size="12" text-anchor="end" fill="#111">-2</text>
<text x="257.6" y="422.4" font-size="12" text-anchor="middle" fill="#111">0</text>
<text x="299.8" y="422.4" font-size="12" text-anchor="middle" fill="#111">8</text>
<text x="342.3" y="422.4" font-size="12" text-anchor="middle" fill="#111">16</text>
<text x="384.3" y="422.4" font-size="12" text-anchor="middle" fill="#111">24</text>
<text x="264.5" y="438.5" font-size="12" text-anchor="start" fill="#111">Time after waking (h)</text>
<text x="217.5" y="341.5" font-size="11.25" font-style="italic" text-anchor="middle" fill="#111" transform="rotate(-90 217.5 341.5)">PER2/GAPDH ratio</text>
<text x="231.5" y="341" font-size="11.6" font-style="italic" text-anchor="middle" fill="#111" transform="rotate(-90 231.5 341)">(Z-score)</text>
<text x="1" y="14.8" font-size="17.5" font-weight="bold" text-anchor="start" fill="#000">a</text>
<text x="422" y="15" font-size="17.5" font-weight="bold" text-anchor="start" fill="#000">b</text>
<text x="1" y="197.5" font-size="17.5" font-weight="bold" text-anchor="start" fill="#000">c</text>
<text x="0.5" y="279" font-size="17.5" font-weight="bold" text-anchor="start" fill="#000">d</text>
<text x="421.5" y="279.3" font-size="17.5" font-weight="bold" text-anchor="start" fill="#000">e</text>
<text x="4.3" y="465" font-size="17.5" font-weight="bold" text-anchor="start" fill="#000">f</text>
<defs><pattern id="vh" patternUnits="userSpaceOnUse" x="1.8" width="2.65" height="4"><rect width="2.65" height="4" fill="#f6f6f6"/><rect x="1.4" width="0.5" height="4" fill="#bbb"/><rect x="0" width="0.95" height="4" fill="#3c3c3c"/></pattern><pattern id="vh2" patternUnits="userSpaceOnUse" width="2.6" height="4"><rect width="2.6" height="4" fill="#3a3a3a"/><rect x="0" width="1" height="4" fill="#4c4c4c"/></pattern></defs>
<ellipse cx="510.4" cy="88.8" rx="53.80" ry="53.80" fill="none" stroke="#808080" stroke-width="0.8"/>
<ellipse cx="510.4" cy="88.8" rx="50.60" ry="50.60" fill="none" stroke="#808080" stroke-width="0.8"/>
<ellipse cx="510.4" cy="88.8" rx="47.30" ry="47.30" fill="none" stroke="#808080" stroke-width="0.8"/>
<line x1="510.40" y1="38.20" x2="510.40" y2="41.50" stroke="#999" stroke-width="0.7"/>
<line x1="523.50" y1="39.92" x2="522.64" y2="43.11" stroke="#999" stroke-width="0.7"/>
<line x1="535.70" y1="44.98" x2="534.05" y2="47.84" stroke="#999" stroke-width="0.7"/>
<line x1="546.18" y1="53.02" x2="543.85" y2="55.35" stroke="#999" stroke-width="0.7"/>
<line x1="554.22" y1="63.50" x2="551.36" y2="65.15" stroke="#999" stroke-width="0.7"/>
<line x1="559.28" y1="75.70" x2="556.09" y2="76.56" stroke="#999" stroke-width="0.7"/>
<line x1="561.00" y1="88.80" x2="557.70" y2="88.80" stroke="#999" stroke-width="0.7"/>
<line x1="559.28" y1="101.90" x2="556.09" y2="101.04" stroke="#999" stroke-width="0.7"/>
<line x1="554.22" y1="114.10" x2="551.36" y2="112.45" stroke="#999" stroke-width="0.7"/>
<line x1="546.18" y1="124.58" x2="543.85" y2="122.25" stroke="#999" stroke-width="0.7"/>
<line x1="535.70" y1="132.62" x2="534.05" y2="129.76" stroke="#999" stroke-width="0.7"/>
<line x1="523.50" y1="137.68" x2="522.64" y2="134.49" stroke="#999" stroke-width="0.7"/>
<line x1="510.40" y1="139.40" x2="510.40" y2="136.10" stroke="#999" stroke-width="0.7"/>
<line x1="497.30" y1="137.68" x2="498.16" y2="134.49" stroke="#999" stroke-width="0.7"/>
<line x1="485.10" y1="132.62" x2="486.75" y2="129.76" stroke="#999" stroke-width="0.7"/>
<line x1="474.62" y1="124.58" x2="476.95" y2="122.25" stroke="#999" stroke-width="0.7"/>
<line x1="466.58" y1="114.10" x2="469.44" y2="112.45" stroke="#999" stroke-width="0.7"/>
<line x1="461.52" y1="101.90" x2="464.71" y2="101.04" stroke="#999" stroke-width="0.7"/>
<line x1="459.80" y1="88.80" x2="463.10" y2="88.80" stroke="#999" stroke-width="0.7"/>
<line x1="461.52" y1="75.70" x2="464.71" y2="76.56" stroke="#999" stroke-width="0.7"/>
<line x1="466.58" y1="63.50" x2="469.44" y2="65.15" stroke="#999" stroke-width="0.7"/>
<line x1="474.62" y1="53.02" x2="476.95" y2="55.35" stroke="#999" stroke-width="0.7"/>
<line x1="485.10" y1="44.98" x2="486.75" y2="47.84" stroke="#999" stroke-width="0.7"/>
<line x1="497.30" y1="39.92" x2="498.16" y2="43.11" stroke="#999" stroke-width="0.7"/>
<polygon points="503.90,34.30 503.90,30.50 510.40,23.50 516.90,30.50 516.90,34.30" stroke="#222" stroke-width="1.0" fill="#fff"/>
<polygon points="542.94,46.57 545.63,43.88 555.17,43.53 554.82,53.07 552.13,55.76" stroke="#222" stroke-width="1.0" fill="#fff"/>
<polygon points="564.90,82.30 568.70,82.30 575.70,88.80 568.70,95.30 564.90,95.30" stroke="#222" stroke-width="1.0" fill="#fff"/>
<polygon points="553.53,122.74 556.22,125.43 556.57,134.97 547.03,134.62 544.34,131.93" stroke="#222" stroke-width="1.0" fill="#fff"/>
<polygon points="516.90,143.30 516.90,147.10 510.40,154.10 503.90,147.10 503.90,143.30" stroke="#222" stroke-width="1.0" fill="#fff"/>
<polygon points="476.46,132.53 473.77,135.22 464.23,135.57 464.58,126.03 467.27,123.34" stroke="#222" stroke-width="1.0" fill="#fff"/>
<polygon points="455.90,95.30 452.10,95.30 445.10,88.80 452.10,82.30 455.90,82.30" stroke="#222" stroke-width="1.0" fill="#fff"/>
<polygon points="467.27,54.86 464.58,52.17 464.23,42.63 473.77,42.98 476.46,45.67" stroke="#222" stroke-width="1.0" fill="#fff"/>
<line x1="510.40" y1="88.80" x2="523.83" y2="134.15" stroke="#555" stroke-width="0.6"/>
<line x1="510.40" y1="88.80" x2="472.13" y2="116.60" stroke="#555" stroke-width="0.6"/>
<ellipse cx="509.3" cy="92.5" rx="28.6" ry="13" fill="url(#vh)" stroke="#bbb" stroke-width="0.4"/>
<text x="515.9" y="92.2" font-size="10.7" text-anchor="middle" fill="#111">0</text>
<ellipse cx="500.5" cy="116.3" rx="16.7" ry="17.4" fill="#444" stroke="#000" stroke-width="1.4"/>
<line x1="463.10" y1="89.00" x2="557.70" y2="89.00" stroke="#000" stroke-width="1.8"/>
<line x1="511.10" y1="64.50" x2="511.10" y2="112.60" stroke="#000" stroke-width="1.6"/>
<line x1="510.40" y1="65.20" x2="514.00" y2="65.20" stroke="#000" stroke-width="1.4"/>
<line x1="510.40" y1="111.90" x2="514.00" y2="111.90" stroke="#000" stroke-width="1.4"/>
<text x="516.8" y="72" font-size="10.7" text-anchor="start" fill="#111">0.5</text>
<text x="517.3" y="120.3" font-size="10.7" text-anchor="start" fill="#111">0.5</text>
<text x="507" y="92" font-size="10" text-anchor="start" fill="#111" transform="rotate(-90 507 92)">Amplitude</text>
<text x="510.35" y="21.2" font-size="10.7" text-anchor="middle" fill="#111">0h</text>
<text x="511" y="166.2" font-size="10.7" text-anchor="middle" fill="#111">12h</text>
<text x="443.6" y="91.7" font-size="10.7" text-anchor="end" fill="#111">18h</text>
<text x="576.3" y="91.7" font-size="10.7" text-anchor="start" fill="#111">6h</text>
<text x="511" y="177.5" font-size="10.3" text-anchor="middle" fill="#111">Time after waking</text>
<polygon points="502.20,115.90 500.80,108.10 503.00,111.50 508.00,109.90" stroke="none" stroke-width="0" fill="#fff"/>
<circle cx="506.5" cy="101.5" r="1.4" fill="#fff"/><circle cx="505" cy="106.8" r="1.4" fill="#fff"/>
<ellipse cx="542.4" cy="20.6" rx="3.6" ry="2.4" fill="#000"/>
<ellipse cx="542.5" cy="30.6" rx="2.9" ry="2.0" fill="#fff" stroke="#333" stroke-width="1"/><line x1="542.5" y1="28.5" x2="542.5" y2="32.7" stroke="#333" stroke-width="0.9"/>
<text x="549.3" y="27.5" font-size="10.6" text-anchor="start" fill="#111">Control</text>
<text x="549.4" y="37.2" font-size="10.6" text-anchor="start" fill="#111">ADHD</text>
<ellipse cx="512.7" cy="342.0" rx="58.70" ry="55.90" fill="none" stroke="#808080" stroke-width="0.8"/>
<ellipse cx="512.7" cy="342.0" rx="55.23" ry="52.60" fill="none" stroke="#808080" stroke-width="0.8"/>
<ellipse cx="512.7" cy="342.0" rx="51.77" ry="49.30" fill="none" stroke="#808080" stroke-width="0.8"/>
<line x1="512.70" y1="289.40" x2="512.70" y2="292.70" stroke="#999" stroke-width="0.7"/>
<line x1="526.99" y1="291.19" x2="526.10" y2="294.38" stroke="#999" stroke-width="0.7"/>
<line x1="540.32" y1="296.45" x2="538.58" y2="299.30" stroke="#999" stroke-width="0.7"/>
<line x1="551.75" y1="304.81" x2="549.30" y2="307.14" stroke="#999" stroke-width="0.7"/>
<line x1="560.53" y1="315.70" x2="557.53" y2="317.35" stroke="#999" stroke-width="0.7"/>
<line x1="566.05" y1="328.39" x2="562.70" y2="329.24" stroke="#999" stroke-width="0.7"/>
<line x1="567.93" y1="342.00" x2="564.47" y2="342.00" stroke="#999" stroke-width="0.7"/>
<line x1="566.05" y1="355.61" x2="562.70" y2="354.76" stroke="#999" stroke-width="0.7"/>
<line x1="560.53" y1="368.30" x2="557.53" y2="366.65" stroke="#999" stroke-width="0.7"/>
<line x1="551.75" y1="379.19" x2="549.30" y2="376.86" stroke="#999" stroke-width="0.7"/>
<line x1="540.32" y1="387.55" x2="538.58" y2="384.70" stroke="#999" stroke-width="0.7"/>
<line x1="526.99" y1="392.81" x2="526.10" y2="389.62" stroke="#999" stroke-width="0.7"/>
<line x1="512.70" y1="394.60" x2="512.70" y2="391.30" stroke="#999" stroke-width="0.7"/>
<line x1="498.41" y1="392.81" x2="499.30" y2="389.62" stroke="#999" stroke-width="0.7"/>
<line x1="485.09" y1="387.55" x2="486.82" y2="384.70" stroke="#999" stroke-width="0.7"/>
<line x1="473.65" y1="379.19" x2="476.10" y2="376.86" stroke="#999" stroke-width="0.7"/>
<line x1="464.87" y1="368.30" x2="467.87" y2="366.65" stroke="#999" stroke-width="0.7"/>
<line x1="459.35" y1="355.61" x2="462.70" y2="354.76" stroke="#999" stroke-width="0.7"/>
<line x1="457.47" y1="342.00" x2="460.94" y2="342.00" stroke="#999" stroke-width="0.7"/>
<line x1="459.35" y1="328.39" x2="462.70" y2="329.24" stroke="#999" stroke-width="0.7"/>
<line x1="464.87" y1="315.70" x2="467.87" y2="317.35" stroke="#999" stroke-width="0.7"/>
<line x1="473.65" y1="304.81" x2="476.10" y2="307.14" stroke="#999" stroke-width="0.7"/>
<line x1="485.09" y1="296.45" x2="486.82" y2="299.30" stroke="#999" stroke-width="0.7"/>
<line x1="498.41" y1="291.19" x2="499.30" y2="294.38" stroke="#999" stroke-width="0.7"/>
<polygon points="506.20,285.70 506.20,281.90 512.70,274.90 519.20,281.90 519.20,285.70" stroke="#222" stroke-width="1.0" fill="#fff"/>
<polygon points="550.60,298.19 553.29,295.51 562.84,295.15 562.48,304.70 559.80,307.39" stroke="#222" stroke-width="1.0" fill="#fff"/>
<polygon points="571.82,335.50 575.62,335.50 582.62,342.00 575.62,348.50 571.82,348.50" stroke="#222" stroke-width="1.0" fill="#fff"/>
<polygon points="559.70,377.51 562.38,380.20 562.74,389.75 553.19,389.39 550.50,386.71" stroke="#222" stroke-width="1.0" fill="#fff"/>
<polygon points="519.20,398.30 519.20,402.10 512.70,409.10 506.20,402.10 506.20,398.30" stroke="#222" stroke-width="1.0" fill="#fff"/>
<polygon points="474.80,386.71 472.11,389.39 462.56,389.75 462.92,380.20 465.60,377.51" stroke="#222" stroke-width="1.0" fill="#fff"/>
<polygon points="453.59,348.50 449.79,348.50 442.79,342.00 449.79,335.50 453.59,335.50" stroke="#222" stroke-width="1.0" fill="#fff"/>
<polygon points="466.60,306.79 463.92,304.10 463.56,294.55 473.11,294.91 475.80,297.59" stroke="#222" stroke-width="1.0" fill="#fff"/>
<line x1="512.70" y1="342.50" x2="463.50" y2="356.00" stroke="#333" stroke-width="0.7" stroke-dasharray="1.2 0.8"/>
<line x1="512.70" y1="342.50" x2="563.00" y2="347.50" stroke="#333" stroke-width="0.7" stroke-dasharray="1.2 0.8"/>
<ellipse cx="509" cy="343" rx="19" ry="19" fill="url(#vh)" stroke="#bbb" stroke-width="0.4"/>
<text x="521.5" y="343.8" font-size="10.7" text-anchor="middle" fill="#111">0</text>
<ellipse cx="514.1" cy="360.5" rx="16.1" ry="17.5" fill="url(#vh2)" stroke="#000" stroke-width="1.4"/>
<line x1="461.50" y1="342.50" x2="563.50" y2="342.50" stroke="#000" stroke-width="2"/>
<line x1="513.30" y1="316.70" x2="513.30" y2="366.20" stroke="#000" stroke-width="1.6"/>
<line x1="512.60" y1="317.40" x2="516.20" y2="317.40" stroke="#000" stroke-width="1.4"/>
<line x1="512.60" y1="365.50" x2="516.50" y2="365.50" stroke="#000" stroke-width="1.4"/>
<text x="520.2" y="322.5" font-size="10.7" text-anchor="start" fill="#111">0.5</text>
<text x="520.8" y="370.4" font-size="10.7" text-anchor="start" fill="#111">0.5</text>
<text x="510.2" y="342.5" font-size="10" text-anchor="start" fill="#111" transform="rotate(-90 510.2 342.5)">Amplitude</text>
<text x="513.25" y="259.8" font-size="10.7" text-anchor="middle" fill="#111">0h</text>
<text x="513.9" y="419.4" font-size="10.7" text-anchor="middle" fill="#111">12h</text>
<text x="439.6" y="346" font-size="10.7" text-anchor="end" fill="#111">18h</text>
<text x="585.4" y="346.4" font-size="10.7" text-anchor="start" fill="#111">6h</text>
<text x="520.8" y="435" font-size="10.35" text-anchor="middle" fill="#111">Time after waking</text>
<polygon points="517.00,360.90 511.30,354.30 515.30,355.60 519.60,353.30" stroke="none" stroke-width="0" fill="#fff"/>
<circle cx="514.4" cy="347.9" r="1.4" fill="#fff"/><circle cx="515.3" cy="353" r="1.4" fill="#fff"/><circle cx="513.2" cy="342.6" r="1.2" fill="#fff"/>
<ellipse cx="566.8" cy="274.9" rx="4" ry="2.65" fill="#000"/>
<ellipse cx="566.8" cy="284.6" rx="3.2" ry="2.4" fill="#fff" stroke="#444" stroke-width="0.8"/><line x1="566.1" y1="282.3" x2="566.1" y2="286.9" stroke="#444" stroke-width="0.7"/><line x1="567.5" y1="282.3" x2="567.5" y2="286.9" stroke="#444" stroke-width="0.7"/>
<text x="576.1" y="280.5" font-size="10.5" text-anchor="start" fill="#111">Control</text>
<text x="576.3" y="290.4" font-size="10.5" text-anchor="start" fill="#111">ADHD</text>
<rect x="16.1" y="206.0" width="386.9" height="36.19999999999999" fill="none" stroke="#222" stroke-width="1.3"/>
<line x1="16.10" y1="221.60" x2="403.00" y2="221.60" stroke="#222" stroke-width="1.3"/>
<line x1="56.50" y1="206.00" x2="56.50" y2="242.20" stroke="#222" stroke-width="1.1"/>
<line x1="89.50" y1="206.00" x2="89.50" y2="242.20" stroke="#222" stroke-width="1.1"/>
<line x1="132.30" y1="206.00" x2="132.30" y2="242.20" stroke="#222" stroke-width="1.1"/>
<line x1="169.60" y1="206.00" x2="169.60" y2="242.20" stroke="#222" stroke-width="1.1"/>
<line x1="223.60" y1="206.00" x2="223.60" y2="242.20" stroke="#222" stroke-width="1.1"/>
<line x1="260.00" y1="206.00" x2="260.00" y2="242.20" stroke="#222" stroke-width="1.1"/>
<line x1="303.80" y1="206.00" x2="303.80" y2="242.20" stroke="#222" stroke-width="1.1"/>
<line x1="350.60" y1="206.00" x2="350.60" y2="242.20" stroke="#222" stroke-width="1.1"/>
<text x="86.8" y="199.8" font-size="8.4" font-weight="bold" font-style="italic" text-anchor="start" fill="#111">Cosinor fit</text>
<text x="136.8" y="199.8" font-size="8.4" font-weight="bold" font-style="italic" text-anchor="start" fill="#111">%Rhythm</text>
<text x="182.2" y="199.8" font-size="8.4" font-weight="bold" font-style="italic" text-anchor="start" fill="#111">MESOR</text>
<text x="232.2" y="199.8" font-size="8.4" font-weight="bold" font-style="italic" text-anchor="start" fill="#111">AMP</text>
<text x="269.4" y="199.8" font-size="8.4" font-weight="bold" font-style="italic" text-anchor="start" fill="#111" textLength="29.6" lengthAdjust="spacing">CI AMP</text>
<text x="317.8" y="199.8" font-size="8.4" font-weight="bold" font-style="italic" text-anchor="start" fill="#111">Acro.</text>
<text x="360.4" y="199.8" font-size="8.4" font-weight="bold" font-style="italic" text-anchor="start" fill="#111" textLength="32.2" lengthAdjust="spacing">CI Acro.</text>
<text x="37.099999999999994" y="216.5" font-size="7.5" font-weight="bold" text-anchor="middle" fill="#111">Control</text>
<text x="73.8" y="216.5" font-size="7.5" font-weight="bold" text-anchor="middle" fill="#111">N=19</text>
<text x="110.9" y="216.5" font-size="7.5" font-weight="bold" text-anchor="middle" fill="#111">P=0.002</text>
<text x="150.95" y="216.5" font-size="7.5" font-weight="bold" text-anchor="middle" fill="#111">56.8</text>
<text x="196.6" y="216.5" font-size="7.5" font-weight="bold" text-anchor="middle" fill="#111">-0.03 +0.03</text>
<text x="241.8" y="216.5" font-size="7.5" font-weight="bold" text-anchor="middle" fill="#111">0.61</text>
<text x="281.9" y="216.5" font-size="7.5" font-weight="bold" text-anchor="middle" fill="#111">0.3, 0.9</text>
<text x="327.20000000000005" y="216.5" font-size="7.5" font-weight="bold" text-anchor="middle" fill="#111">13.26h</text>
<text x="376.8" y="216.5" font-size="7.5" font-weight="bold" text-anchor="middle" fill="#111">11.5, 15.0</text>
<text x="37.099999999999994" y="233.2" font-size="7.5" font-weight="bold" text-anchor="middle" fill="#111">ADHD</text>
<text x="73.8" y="233.2" font-size="7.5" font-weight="bold" text-anchor="middle" fill="#111">N=13</text>
<text x="110.9" y="233.2" font-size="7.5" font-weight="bold" text-anchor="middle" fill="#111">P=0.617</text>
<text x="150.95" y="233.2" font-size="7.5" font-weight="bold" text-anchor="middle" fill="#111">33.9</text>
<text x="196.6" y="233.2" font-size="7.5" font-weight="bold" text-anchor="middle" fill="#111">-0.03+ 0.03</text>
<text x="238.9" y="233.2" font-size="7.5" font-weight="bold" text-anchor="middle" fill="#111">0.10</text>
<text x="281.9" y="233.2" font-size="7.5" font-weight="bold" text-anchor="middle" fill="#111">0, 0.</text>
<text x="327.20000000000005" y="233.2" font-size="7.5" font-weight="bold" text-anchor="middle" fill="#111">12.88h</text>
<text x="376.8" y="233.2" font-size="7.5" font-weight="bold" text-anchor="middle" fill="#111">0,0.</text>
<rect x="17.5" y="473.5" width="392.5" height="36.80000000000001" fill="none" stroke="#222" stroke-width="1.3"/>
<line x1="17.50" y1="491.50" x2="410.00" y2="491.50" stroke="#222" stroke-width="1.3"/>
<line x1="58.50" y1="473.50" x2="58.50" y2="510.30" stroke="#222" stroke-width="1.1"/>
<line x1="92.40" y1="473.50" x2="92.40" y2="510.30" stroke="#222" stroke-width="1.1"/>
<line x1="136.00" y1="473.50" x2="136.00" y2="510.30" stroke="#222" stroke-width="1.1"/>
<line x1="176.40" y1="473.50" x2="176.40" y2="510.30" stroke="#222" stroke-width="1.1"/>
<line x1="226.40" y1="473.50" x2="226.40" y2="510.30" stroke="#222" stroke-width="1.1"/>
<line x1="265.60" y1="473.50" x2="265.60" y2="510.30" stroke="#222" stroke-width="1.1"/>
<line x1="309.40" y1="473.50" x2="309.40" y2="510.30" stroke="#222" stroke-width="1.1"/>
<line x1="357.60" y1="473.50" x2="357.60" y2="510.30" stroke="#222" stroke-width="1.1"/>
<text x="88.8" y="467.6" font-size="8.4" font-weight="bold" font-style="italic" text-anchor="start" fill="#111">Cosinor fit</text>
<text x="140.8" y="467.6" font-size="8.4" font-weight="bold" font-style="italic" text-anchor="start" fill="#111">%Rhythm</text>
<text x="190.8" y="467.6" font-size="8.4" font-weight="bold" font-style="italic" text-anchor="start" fill="#111">MESOR</text>
<text x="238.2" y="467.6" font-size="8.4" font-weight="bold" font-style="italic" text-anchor="start" fill="#111">AMP</text>
<text x="275.8" y="467.6" font-size="8.4" font-weight="bold" font-style="italic" text-anchor="start" fill="#111" textLength="29.6" lengthAdjust="spacing">CI AMP</text>
<text x="325.8" y="467.6" font-size="8.4" font-weight="bold" font-style="italic" text-anchor="start" fill="#111">Acro.</text>
<text x="368.8" y="467.6" font-size="8.4" font-weight="bold" font-style="italic" text-anchor="start" fill="#111" textLength="32.2" lengthAdjust="spacing">CI Acro.</text>
<text x="38.8" y="483" font-size="7.5" font-weight="bold" text-anchor="middle" fill="#111">Control</text>
<text x="76.25" y="483" font-size="7.5" font-weight="bold" text-anchor="middle" fill="#111">N=19</text>
<text x="114.2" y="483" font-size="7.5" font-weight="bold" text-anchor="middle" fill="#111">P=0.037</text>
<text x="156.2" y="483" font-size="7.5" font-weight="bold" text-anchor="middle" fill="#111">38</text>
<text x="201.4" y="483" font-size="7.5" font-weight="bold" text-anchor="middle" fill="#111">0.02+0.03</text>
<text x="246.0" y="483" font-size="7.5" font-weight="bold" text-anchor="middle" fill="#111">0.36</text>
<text x="287.5" y="483" font-size="7.5" font-weight="bold" text-anchor="middle" fill="#111">0.1, 0.6</text>
<text x="333.5" y="483" font-size="7.5" font-weight="bold" text-anchor="middle" fill="#111">11.7h</text>
<text x="383.8" y="483" font-size="7.5" font-weight="bold" text-anchor="middle" fill="#111">8.8, 14.6</text>
<text x="38.8" y="501.2" font-size="7.5" font-weight="bold" text-anchor="middle" fill="#111">ADHD</text>
<text x="76.25" y="501.2" font-size="7.5" font-weight="bold" text-anchor="middle" fill="#111">N=13</text>
<text x="114.2" y="501.2" font-size="7.5" font-weight="bold" text-anchor="middle" fill="#111">P=0.83</text>
<text x="156.2" y="501.2" font-size="7.5" font-weight="bold" text-anchor="middle" fill="#111">24</text>
<text x="201.4" y="501.2" font-size="7.5" font-weight="bold" text-anchor="middle" fill="#111">-0.1+ 0.1</text>
<text x="246.0" y="501.2" font-size="7.5" font-weight="bold" text-anchor="middle" fill="#111">0.08</text>
<text x="287.5" y="501.2" font-size="7.5" font-weight="bold" text-anchor="middle" fill="#111">0, 0.</text>
<text x="333.5" y="501.2" font-size="7.5" font-weight="bold" text-anchor="middle" fill="#111">18.5h</text>
<text x="383.8" y="501.2" font-size="7.5" font-weight="bold" text-anchor="middle" fill="#111">0,0.</text>
<text x="251.4" y="233.8" font-size="9" font-weight="bold" text-anchor="middle" fill="#111">*</text>
<line x1="24.00" y1="218.30" x2="50.50" y2="218.30" stroke="#555" stroke-width="1"/>
<line x1="25.00" y1="234.60" x2="48.50" y2="234.60" stroke="#555" stroke-width="1.2"/>
<line x1="27.00" y1="485.20" x2="51.80" y2="485.20" stroke="#555" stroke-width="1"/>
<line x1="28.80" y1="504.00" x2="49.60" y2="504.00" stroke="#555" stroke-width="1.2"/>
</svg></body></html>
